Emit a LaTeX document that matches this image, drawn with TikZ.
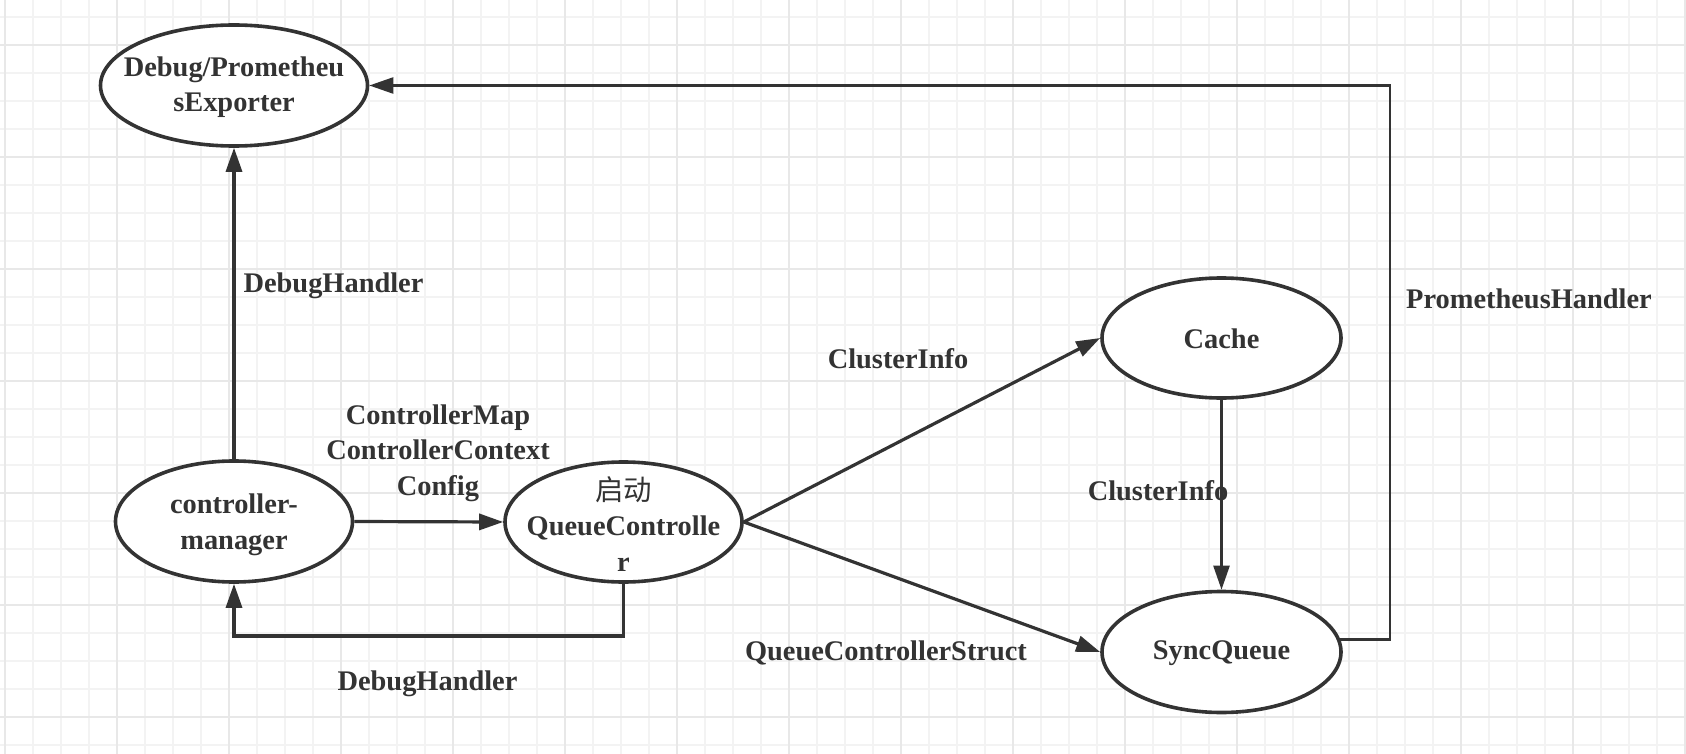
\documentclass[tikz,border=0pt]{standalone}
\usepackage{fontspec}
\setmainfont{Liberation Serif}
\newfontfamily\cjk{Noto Sans CJK SC}
\usetikzlibrary{shapes.geometric,arrows.meta}
\definecolor{ink}{HTML}{333333}
\definecolor{gridminor}{HTML}{F3F3F3}
\definecolor{gridmajor}{HTML}{E8E8E8}
\begin{document}
\begin{tikzpicture}[x=0.5pt,y=-0.5pt,
  every node/.style={font=\bfseries\fontsize{14.2pt}{17.75pt}\selectfont, text=ink},
  oval/.style={ellipse, draw=ink, line width=1.8pt, fill=white, inner sep=0pt},
  lbl/.style={align=center, inner sep=0pt},
  conn/.style={draw=ink, line width=1.6pt, -{Triangle[length=12pt,width=8pt]}},
  connthin/.style={conn, line width=1.2pt},
  gmin/.style={draw=gridminor, line width=0.75pt},
  gmaj/.style={draw=gridmajor, line width=1pt}]
\useasboundingbox (0,0) rectangle (1686,754);
\fill[white] (0,0) rectangle (1686,754);
% grid
\foreach \k in {0,...,60} \draw[gmin] ({5+28*\k},0) -- ({5+28*\k},754);
\foreach \k in {0,...,26} \draw[gmin] (0,{17+28*\k}) -- (1686,{17+28*\k});
\foreach \k in {0,...,15} \draw[gmaj] ({5+112*\k},0) -- ({5+112*\k},754);
\foreach \k in {0,...,6} \draw[gmaj] (0,{45+112*\k}) -- (1686,{45+112*\k});

% ellipses
\node[oval, minimum width=133.5pt, minimum height=60.5pt] (dbg) at (234,85.5) {};
\node[oval, minimum width=118.5pt, minimum height=60.5pt] (cm) at (234,521.5) {};
\node[oval, minimum width=118.5pt, minimum height=60pt] (qc) at (623.5,522) {};
\node[oval, minimum width=119.5pt, minimum height=60pt] (cache) at (1221.5,338) {};
\node[oval, minimum width=119.5pt, minimum height=60.5pt] (sq) at (1221.5,652) {};

% texts inside
\node[lbl] (dbgt) at (234,87) {Debug/Prometheu\\sExporter};
\node[lbl] (cmt) at (234,525) {controller-\\manager};
\node[lbl] (qct) at (623.5,524) {{\cjk\mdseries 启动}\\QueueControlle\\r};
\node[lbl] (cachet) at (1221.5,339) {Cache};
\node[lbl] (sqt) at (1221.5,653) {SyncQueue};

% connectors
\draw[conn] (cm.north) -- (dbg.south);
\draw[conn] (cm.east) -- (qc.west);
\coordinate (bl) at (623.5,636);
\draw[conn] (qc.south) -- (bl) -| (cm.south);
\draw[conn] (qc.east) -- (cache.west);
\draw[conn] (qc.east) -- (sq.west);
\draw[connthin] (cache.south) -- (sq.north);
\coordinate (pr) at (1390,85.5);
\draw[connthin] (sq.6) -| (pr) -- (dbg.east);

% labels
\node[lbl] (l1) at (333.5,286) {DebugHandler};
\node[lbl] (l2) at (438,453) {ControllerMap\\ControllerContext\\Config};
\node[lbl] (l3) at (427.5,684) {DebugHandler};
\node[lbl] (l4) at (898,359) {ClusterInfo};
\node[lbl] (l5) at (886,653) {QueueControllerStruct};
\node[lbl] (l6) at (1158,491) {ClusterInfo};
\node[lbl] (l7) at (1529,299) {PrometheusHandler};
\end{tikzpicture}
\end{document}
